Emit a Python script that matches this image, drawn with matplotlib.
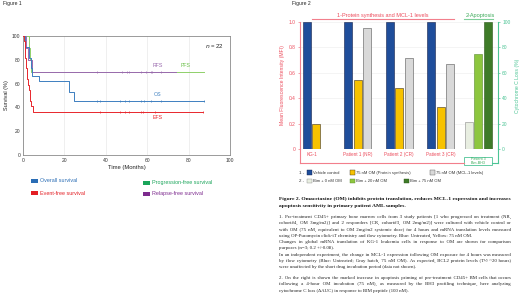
import numpy as np
import matplotlib
matplotlib.use("Agg")
import matplotlib.pyplot as plt
from matplotlib.patches import Rectangle
from matplotlib.transforms import blended_transform_factory

W, H = 520, 297

# ---------------- Figure 1 data (Kaplan-Meier) ----------------
os_time = [0, 1.0, 3.0, 3.9, 4.5, 7.6, 22.0, 24.4]
os_surv = [100, 90.9, 81.8, 72.7, 66.7, 62.0, 52.7, 45.4]
os_end = 87.5
os_censor = [35.8, 37.4, 47.1, 49.5, 51.1, 56.8, 58.4, 61.7, 66.5, 87.5]

efs_time = [0, 0.5, 0.8, 1.0, 1.2, 1.4, 1.6, 1.8, 2.0, 2.2, 3.0, 3.3, 3.6, 4.0, 4.6]
efs_surv = [100, 95.5, 90.9, 86.4, 81.8, 77.3, 72.7, 68.2, 63.6, 59.1, 54.5, 50.0, 45.5, 40.9, 36.4]
efs_end = 87.0
efs_censor = [37.0, 47.0, 49.5, 51.0, 56.8, 58.0, 64.0, 87.0]

pfs_time = [0, 2.9, 3.4, 4.0]
pfs_surv = [100, 90, 80, 70]
pfs_end = 87.5
pfs_censor = []

rfs_time = [0, 1.5, 2.6, 4.2]
rfs_surv = [100, 90, 80, 70]
rfs_end = 73.8
rfs_censor = [35.8, 47.9, 50.3, 51.1, 56.8, 59.2, 61.7, 62.5, 66.5]

fig1_xticks = [0, 20, 40, 60, 80, 100]
fig1_yticks = [0, 20, 40, 60, 80, 100]

# ---------------- Figure 2 data ----------------
groups = ["KG-1", "Patient 1 (NR)", "Patient 2 (CR)", "Patient 3 (CR)"]
vehicle = [1.0, 1.0, 1.0, 1.0]
om_protein = [0.20, 0.54, 0.48, 0.33]
om_mcl1 = [np.nan, 0.95, 0.72, 0.67]
bim_series = ["Bim + 0 nM OM", "Bim + 20 nM OM", "Bim + 75 nM OM"]
bim_cytc = [21, 75, 100]
fig2_yticks = [0, 0.2, 0.4, 0.6, 0.8, 1.0]
fig2_yticklabels = ["0", "0.2", "0.4", "0.6", "0.8", "1.0"]
fig2_rticks = [0, 20, 40, 60, 80, 100]

title_lines = [
    "Figure 2. Omacetaxine (OM) inhibits protein translation, reduces MCL-1 expression and increases",
    "apoptosis sensitivity in primary patient AML samples.",
]
body_lines = [
    ("1. Pre-treatment CD45+ primary bone marrow cells from 3 study patients [1 who progressed on treatment (NR,", True),
    ("cohort#4, OM 3mg/m2)] and 2 responders [CR, cohort#3, OM 2mg/m2)] were cultured with vehicle control or", True),
    ("with OM (75 nM, equivalent to OM 2mg/m2 systemic dose) for 4 hours and mRNA translation levels measured", True),
    ("using OP-Puromycin click-iT chemistry and flow cytometry. Blue: Untreated, Yellow: 75 nM OM.", False),
    ("Changes in global mRNA translation of KG-1 leukemia cells in response to OM are shown for comparison", True),
    ("purposes (n=3; 0.2 +/-0.08).", False),
    ("In an independent experiment, the change in MCL-1 expression following OM exposure for 4 hours was measured", True),
    ("by flow cytometry (Blue: Untreated; Gray hatch, 75 nM OM). As expected, BCL2 protein levels (T½ ~20 hours)", True),
    ("were unaffected by the short drug incubation period (data not shown).", False),
    ("2. On the right is shown the marked increase in apoptosis priming of pre-treatment CD45+ BM cells that occurs", True),
    ("following a 4-hour OM incubation (75 nM), as measured by the BH3 profiling technique, here analyzing", True),
    ("cytochrome C loss (ΔAUC) in response to BIM peptide (100 nM).", False),
]
body_y = [217, 223.3, 229.6, 235.9, 242.2, 248.5, 254.8, 261.1, 267.4, 278, 284.3, 290.6]

plt.rcParams["font.family"] = ["Liberation Sans", "DejaVu Sans"]

fig = plt.figure(figsize=(W / 100, H / 100), dpi=100)
fig.patch.set_facecolor("white")


def fx(px):
    return px / W


def fy(py):
    return 1 - py / H


# ================= Figure 1 =================
ax1 = fig.add_axes([fx(23), fy(155), fx(230) - fx(23), fy(36) - fy(155)])
ax1.set_xlim(0, 100)
ax1.set_ylim(0, 100)
for sp in ax1.spines.values():
    sp.set_color("#8a8a8a")
    sp.set_linewidth(0.6)
ax1.set_xticks(fig1_xticks)
ax1.set_yticks(fig1_yticks)
ax1.tick_params(labelsize=3.6, length=0, pad=2, colors="#333333")
ax1.xaxis.grid(True, color="#e4e4e4", lw=0.4)
ax1.set_axisbelow(True)
ax1.set_xlabel("Time (Months)", fontsize=4.2, labelpad=1.5, color="#222222")
ax1.set_ylabel("Survival (%)", fontsize=4.0, labelpad=2, color="#222222")


def km(ax, t, s, end, cens, color):
    tt = list(t) + [end]
    ss = list(s) + [s[-1]]
    ax.step(tt, ss, where="post", color=color, lw=0.7, zorder=3)
    if cens:
        idx = np.searchsorted(t, cens, side="right") - 1
        ax.plot(cens, np.array(s)[idx], ls="none", marker="|", ms=2.0, mew=0.5,
                color=color, zorder=4)


c_os, c_efs, c_pfs, c_rfs = "#3d7fc0", "#e8262c", "#8fd06a", "#9a6aae"
km(ax1, pfs_time, pfs_surv, pfs_end, pfs_censor, c_pfs)
km(ax1, rfs_time, rfs_surv, rfs_end, rfs_censor, c_rfs)
km(ax1, os_time, os_surv, os_end, os_censor, c_os)
km(ax1, efs_time, efs_surv, efs_end, efs_censor, c_efs)

ax1.text(65, 73.5, "RFS", color=c_rfs, fontsize=3.8, ha="center", va="bottom")
ax1.text(78.5, 73.5, "PFS", color="#6cc04a", fontsize=3.8, ha="center", va="bottom")
ax1.text(65, 48.5, "OS", color=c_os, fontsize=3.8, ha="center", va="bottom")
ax1.text(65, 29.5, "EFS", color=c_efs, fontsize=3.8, ha="center", va="bottom")
ax1.text(0.97, 0.92, r"$\it{n}$ = 22", transform=ax1.transAxes, fontsize=4.3,
         ha="right", va="center", color="#222222")

fig.text(fx(3), fy(4), "Figure 1", fontsize=3.6, ha="left", va="center", color="#222222")

leg1 = [("Overall survival", "#2a6db5", 31, 181),
        ("Event-free survival", "#e31e24", 31, 193.3),
        ("Progression-free survival", "#1aa55a", 143.3, 182.7),
        ("Relapse-free survival", "#7d2a8e", 143.3, 193.7)]
for lab, col, x0, yc in leg1:
    fig.patches.append(Rectangle((fx(x0), fy(yc + 2)), fx(7), fy(0) - fy(4),
                                 transform=fig.transFigure, color=col, lw=0))
    fig.text(fx(x0 + 9), fy(yc), lab, color=col, fontsize=3.9, ha="left", va="center")

# ================= Figure 2 =================
pink_line = "#f27f8c"
pink_text = "#ec4c5c"
green_ax = "#4cc495"
green_text = "#3daa5a"

ax2 = fig.add_axes([fx(300), fy(149), fx(498) - fx(300), fy(22) - fy(149)])
pos = np.arange(len(groups)) * 4.4
bw = 0.85
ax2.bar(pos, vehicle, bw, color="#1f4e9b", edgecolor="#15204a", lw=0.4, zorder=3)
ax2.bar(pos + 1, om_protein, bw, color="#f7c200", edgecolor="#3a3020", lw=0.4, zorder=3)
ax2.bar(pos + 2, om_mcl1, bw, color="#d9d9d9", edgecolor="#555555", lw=0.4, zorder=3)
ax2.set_xlim(-0.74, 20.3)
ax2.set_ylim(0, 1.0)
ax2.set_yticks(fig2_yticks)
ax2.set_yticklabels(fig2_yticklabels)
ax2.yaxis.grid(True, color="#ececec", lw=0.4)
ax2.set_axisbelow(True)
for k in ["top", "right", "bottom"]:
    ax2.spines[k].set_visible(False)
ax2.spines["left"].set_color(pink_line)
ax2.spines["left"].set_linewidth(0.8)
ax2.tick_params(axis="y", colors=pink_text, labelsize=3.5, length=1.5, width=0.5, pad=1.5)
ax2.tick_params(axis="y", color=pink_line)
centers = [pos[0] + 0.5] + [p + 1 for p in pos[1:]]
ax2.set_xticks(centers)
ax2.set_xticklabels(groups)
ax2.tick_params(axis="x", length=0, pad=2.5, labelsize=3.3, colors=pink_text)
ax2.set_ylabel("Mean Fluorescence Intensity (MFI)", color=pink_text, fontsize=3.7, labelpad=3)

ax2r = ax2.twinx()
bim_pos = pos[-1] + 4.0 + np.arange(len(bim_cytc))
bim_colors = ["#e8eee1", "#8dc63f", "#3e7b28"]
bim_edges = ["#8a8a8a", "#5a8a30", "#2a5518"]
ax2r.bar(bim_pos, bim_cytc, bw, color=bim_colors, edgecolor=bim_edges, lw=0.4, zorder=3)
ax2r.set_ylim(0, 100)
ax2r.set_yticks(fig2_rticks)
for k in ["top", "left", "bottom"]:
    ax2r.spines[k].set_visible(False)
ax2r.spines["right"].set_color(green_ax)
ax2r.spines["right"].set_linewidth(0.8)
ax2r.tick_params(axis="y", colors=green_ax, labelsize=3.5, length=1.5, width=0.5, pad=1.5)
ax2r.set_ylabel("Cytochrome C Loss (%)", color=green_ax, fontsize=3.7, labelpad=3)

blend = blended_transform_factory(ax2.transData, ax2.transAxes)
ybr = -0.107
ax2.plot([0, 0], [0, ybr], transform=ax2.transAxes, color=pink_line, lw=0.8, clip_on=False)
ax2.plot([-0.74, bim_pos[0] - 0.55], [ybr, ybr], transform=blend, color=pink_line, lw=0.8,
         clip_on=False)
ax2.plot([1, 1], [0, ybr], transform=ax2.transAxes, color=green_ax, lw=0.8, clip_on=False)
ax2.plot([bim_pos[-1] + 0.46, 20.3], [ybr, ybr], transform=blend, color=green_ax, lw=0.8,
         clip_on=False)
x_l, x_r = bim_pos[0] - 0.55, bim_pos[-1] + 0.46
ax2.add_patch(Rectangle((x_l, -0.126), x_r - x_l, 0.065, transform=blend, fill=False,
                        edgecolor=green_ax, lw=0.6, clip_on=False))
ax2.text(bim_pos[1], -0.093, "Patient 3\nBim-BH3", transform=blend, ha="center", va="center",
         fontsize=2.7, color=green_text, linespacing=1.1)

# top section labels
ax2.plot([pos[0] + 0.5, pos[-1] + 2.45], [1.024, 1.024], transform=blend, color=pink_line,
         lw=0.8, clip_on=False)
ax2.text((pos[0] + 0.5 + pos[-1] + 2.45) / 2, 1.035, "1-Protein synthesis and MCL-1 levels",
         transform=blend, ha="center", va="bottom", fontsize=4.0, color=pink_text)
ax2.plot([bim_pos[0] - 0.5, bim_pos[-1] + 0.55], [1.024, 1.024], transform=blend,
         color="#7fcf9a", lw=0.8, clip_on=False)
ax2.text(bim_pos[1] + 0.2, 1.035, "2-Apoptosis", transform=blend, ha="center", va="bottom",
         fontsize=4.0, color=green_text)

fig.text(fx(292), fy(4), "Figure 2", fontsize=3.6, ha="left", va="center", color="#222222")

# Figure 2 legend
leg2_rows = [
    ("1 -", 172.7, [("Vehicle control", "#1f4e9b", "#15204a", 307),
                    ("75 nM OM (Protein synthesis)", "#f7c200", "#3a3020", 350),
                    ("75 nM OM (MCL-1 levels)", "#d9d9d9", "#555555", 430)]),
    ("2 -", 181.0, [(bim_series[0], bim_colors[0], bim_edges[0], 307),
                    (bim_series[1], bim_colors[1], bim_edges[1], 350),
                    (bim_series[2], bim_colors[2], bim_edges[2], 404)]),
]
for lead, yc, items in leg2_rows:
    fig.text(fx(299), fy(yc), lead, fontsize=3.2, ha="left", va="center", color="#333333")
    for lab, fc, ec, x0 in items:
        fig.patches.append(Rectangle((fx(x0), fy(yc + 2.2)), fx(4.6), fy(0) - fy(4.4),
                                     transform=fig.transFigure, facecolor=fc, edgecolor=ec,
                                     lw=0.3))
        fig.text(fx(x0 + 5.8), fy(yc), lab, fontsize=3.0, ha="left", va="center",
                 color="#333333")

# Caption: one text object per line, justified by padding the word gaps with hair spaces
renderer = fig.canvas.get_renderer()
X0, X1 = 279, 511
HAIR = "\u200a"


def text_width(s, **kw):
    t = fig.text(0, 0, s, **kw)
    w = t.get_window_extent(renderer).width
    t.remove()
    return w


def build(words, n_total):
    ngaps = len(words) - 1
    base, rem = divmod(n_total, ngaps)
    parts = [words[0]]
    for i, wd in enumerate(words[1:]):
        parts.append(" " + HAIR * (base + (1 if i < rem else 0)) + wd)
    return "".join(parts)


def put_line(line, ypx, justify, **kw):
    out = line
    target = X1 - X0
    if justify:
        words = line.split(" ")
        hs = (text_width("x" + HAIR * 20 + "x", **kw) - text_width("xx", **kw)) / 20.0
        extra = target - text_width(line, **kw)
        if hs > 0 and extra > 0 and len(words) > 1:
            n = int(round(extra / hs))
            cand = build(words, n)
            while n > 0 and text_width(cand, **kw) > target:
                n -= 1
                cand = build(words, n)
            out = cand
    fig.text(fx(X0), fy(ypx), out, ha="left", va="center", **kw)


serif = ["Liberation Serif", "DejaVu Serif"]
put_line(title_lines[0], 199, True, fontsize=3.95, fontweight="bold", family=serif, color="#111111")
put_line(title_lines[1], 205.5, False, fontsize=3.95, fontweight="bold", family=serif, color="#111111")
for (line, just), yy in zip(body_lines, body_y):
    put_line(line, yy, just, fontsize=3.55, family=serif, color="#222222")

fig.savefig("out.png", dpi=100, facecolor="white")
